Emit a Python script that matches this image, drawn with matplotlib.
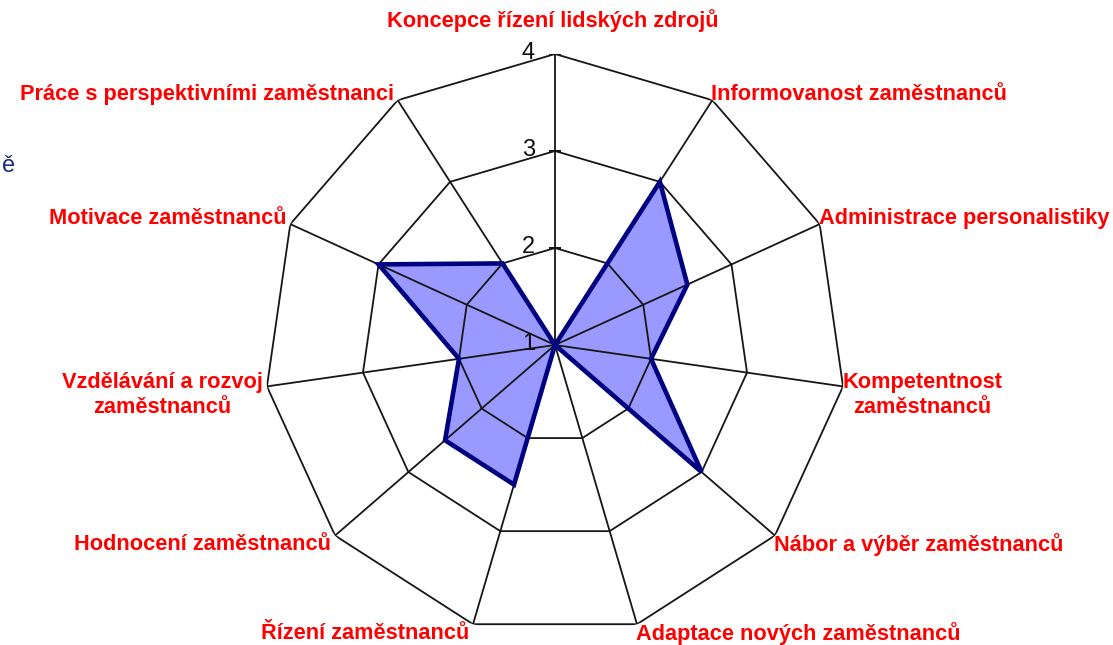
import numpy as np
import matplotlib
matplotlib.use("Agg")
import matplotlib.pyplot as plt

categories = [
    "Koncepce řízení lidských zdrojů",
    "Informovanost zaměstnanců",
    "Administrace personalistiky",
    "Kompetentnost\nzaměstnanců",
    "Nábor a výběr zaměstnanců",
    "Adaptace nových zaměstnanců",
    "Řízení zaměstnanců",
    "Hodnocení zaměstnanců",
    "Vzdělávání a rozvoj\nzaměstnanců",
    "Motivace zaměstnanců",
    "Práce s perspektivními zaměstnanci",
]
values = [1, 3, 2.5, 2, 3, 1, 2.5, 2.5, 2, 3, 2]
ring_levels = [2, 3, 4]
tick_labels = ["1", "2", "3", "4"]
r_min, r_max = 1, 4

W, H = 1113, 645
fig = plt.figure(figsize=(W / 100, H / 100), dpi=100)
cx, cy, R = 555, 345, 291
ax = fig.add_axes([(cx - R) / W, (H - cy - R) / H, 2 * R / W, 2 * R / H], projection="polar")
ax.set_theta_zero_location("N")
ax.set_theta_direction(-1)
ax.set_ylim(r_min, r_max)
ax.grid(False)
ax.set_xticks([])
ax.set_yticks([])
ax.spines["polar"].set_visible(False)
ax.patch.set_alpha(0)

n = len(categories)
theta = np.arange(n) * 2 * np.pi / n
theta_c = np.append(theta, theta[0])
vals_c = np.append(values, values[0])

grid_color = "#161616"
# data fill
ax.fill(theta_c, vals_c, color="#9999ff", zorder=1, linewidth=0)
# rings
for lv in ring_levels:
    ax.plot(theta_c, [lv] * (n + 1), color=grid_color, lw=1.3, zorder=2)
# spokes
for t in theta:
    ax.plot([t, t], [r_min, r_max], color=grid_color, lw=1.3, zorder=2)
# small ticks on the value axis
ax.plot([0] * len(ring_levels), ring_levels, linestyle="none", marker="_",
        markersize=9, markeredgewidth=1.3, color=grid_color, zorder=2)
# data outline
ax.plot(theta_c, vals_c, color="#000080", lw=3.3, zorder=3, solid_joinstyle="miter")

# tick labels
for i, lab in enumerate(tick_labels):
    ax.annotate(lab, xy=(0, r_min + i), xytext=(-20, 1), textcoords="offset pixels",
                ha="right", va="center", fontsize=17, color="#111111",
                family="Liberation Sans", zorder=4)

# category labels
for t, lab in zip(theta, categories):
    s, c = np.sin(t), np.cos(t)
    if abs(s) < 0.05:
        ha, dx = "center", -2
    elif s > 0:
        ha, dx = "left", -1
    else:
        ha, dx = "right", -4
    if c > 0.99:
        dy = 33
    elif c > 0.1:
        dy = 6
    elif c < -0.1:
        dy = -9
    else:
        dy = -2
    ax.annotate(lab, xy=(t, r_max), xytext=(dx, dy), textcoords="offset pixels",
                ha=ha, va="center", multialignment="center", fontsize=15.7,
                fontweight="bold", color="#ff0000", family="Liberation Sans",
                linespacing=1.25, annotation_clip=False)

fig.text(2 / W, 1 - 166 / H, "ě", ha="left", va="center", fontsize=17,
         color="#1c2a80", family="Liberation Sans")

fig.savefig("out.png", dpi=100)
